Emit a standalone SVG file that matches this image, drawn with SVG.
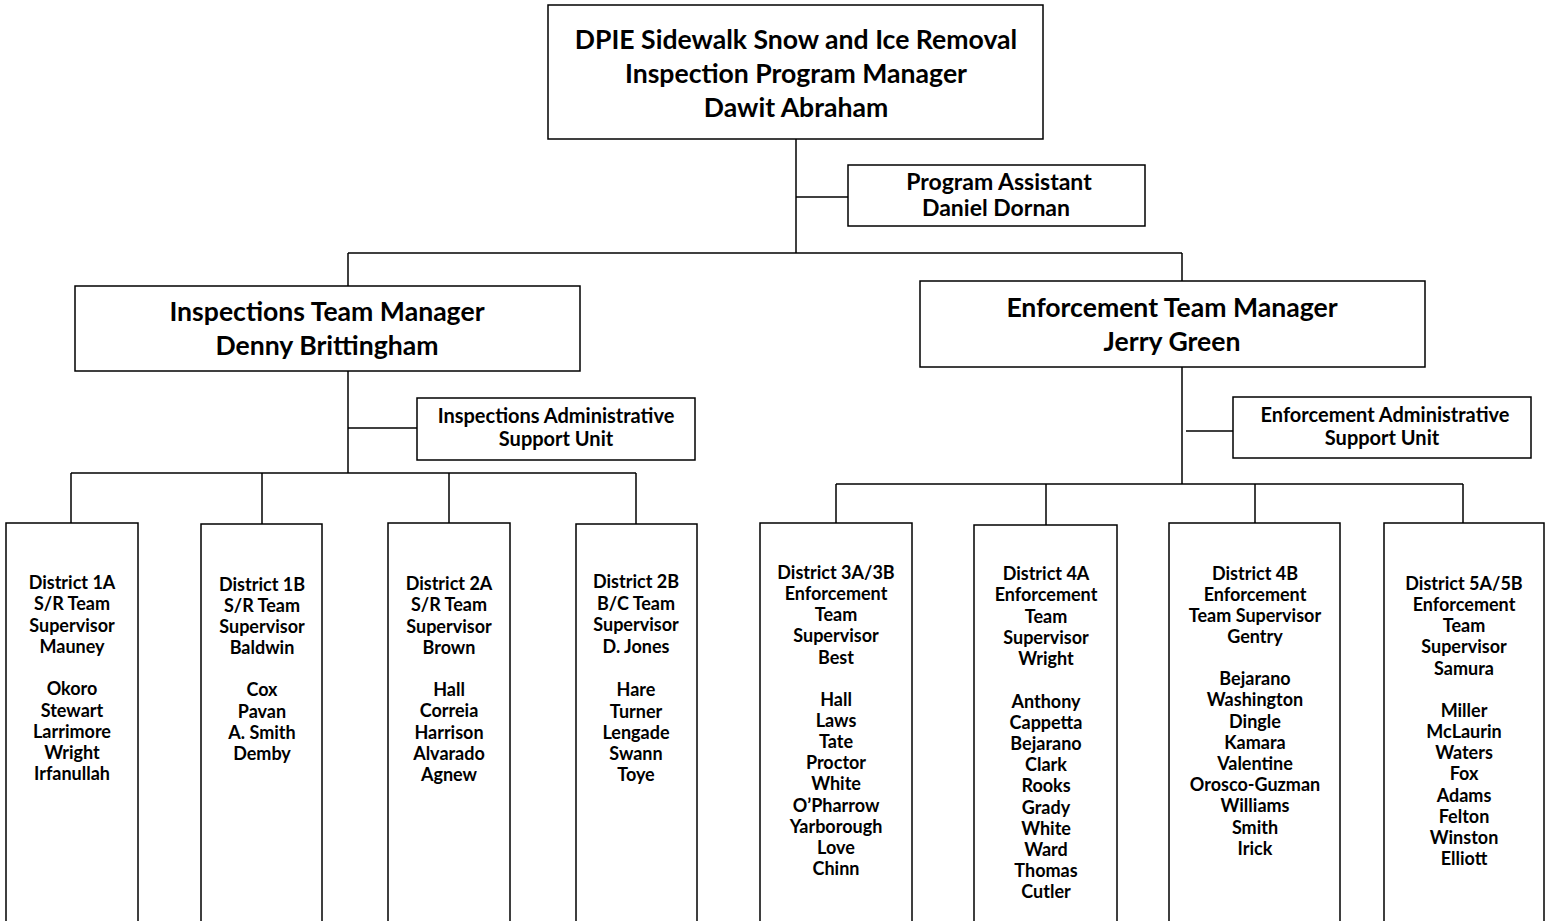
<svg xmlns="http://www.w3.org/2000/svg" width="1549" height="921" viewBox="0 0 1549 921">
<style>
rect{fill:#fff;stroke:#000;stroke-width:1.5}
.c line{stroke:#000;stroke-width:1.5}
text{font-family:Lato,"Liberation Sans",sans-serif;font-weight:bold;fill:#000;text-anchor:middle}
.t{font-size:26.6px}
.s{font-size:23px}
.a{font-size:20px}
.d{font-size:18px}
</style>
<rect x="0" y="0" width="1549" height="921" style="stroke:none"/>
<g class="c">
<line x1="796" y1="139" x2="796" y2="253"/>
<line x1="796" y1="197" x2="848" y2="197"/>
<line x1="348" y1="253" x2="1182" y2="253"/>
<line x1="348" y1="253" x2="348" y2="286"/>
<line x1="1182" y1="253" x2="1182" y2="281"/>
<line x1="348" y1="371" x2="348" y2="473"/>
<line x1="348" y1="428" x2="417" y2="428"/>
<line x1="71" y1="473" x2="636" y2="473"/>
<line x1="71" y1="473" x2="71" y2="523"/>
<line x1="262" y1="473" x2="262" y2="524"/>
<line x1="449" y1="473" x2="449" y2="523"/>
<line x1="636" y1="473" x2="636" y2="524"/>
<line x1="1182" y1="367" x2="1182" y2="484"/>
<line x1="1186" y1="431" x2="1233" y2="431"/>
<line x1="836" y1="484" x2="1463" y2="484"/>
<line x1="836" y1="484" x2="836" y2="523"/>
<line x1="1046" y1="484" x2="1046" y2="525"/>
<line x1="1255" y1="484" x2="1255" y2="523"/>
<line x1="1463" y1="484" x2="1463" y2="523"/>
</g>
<g id="director">
<rect x="548" y="5" width="495" height="134"/>
<text class="t" x="796" y="49">DPIE Sidewalk Snow and Ice Removal</text>
<text class="t" x="796" y="83">Inspection Program Manager</text>
<text class="t" x="796" y="117">Dawit Abraham</text>
</g>
<g id="assistant">
<rect x="848" y="165" width="297" height="61"/>
<text class="s" x="999" y="190">Program Assistant</text>
<text class="s" x="996" y="216">Daniel Dornan</text>
</g>
<g id="insp-mgr">
<rect x="75" y="286" width="505" height="85"/>
<text class="t" x="327" y="321">Inspections Team Manager</text>
<text class="t" x="327" y="355">Denny Brittingham</text>
</g>
<g id="enf-mgr">
<rect x="920" y="281" width="505" height="86"/>
<text class="t" x="1172" y="317">Enforcement Team Manager</text>
<text class="t" x="1172" y="351">Jerry Green</text>
</g>
<g id="insp-admin">
<rect x="417" y="398" width="278" height="62"/>
<text class="a" x="556" y="423">Inspections Administrative</text>
<text class="a" x="556" y="446">Support Unit</text>
</g>
<g id="enf-admin">
<rect x="1233" y="397" width="298" height="61"/>
<text class="a" x="1385" y="422">Enforcement Administrative</text>
<text class="a" x="1382" y="445">Support Unit</text>
</g>
<g id="d1a">
<rect x="6" y="523" width="132" height="400"/>
<text class="d" x="72" y="589">District 1A</text>
<text class="d" x="72" y="610">S/R Team</text>
<text class="d" x="72" y="632">Supervisor</text>
<text class="d" x="72" y="653">Mauney</text>
<text class="d" x="72" y="695">Okoro</text>
<text class="d" x="72" y="717">Stewart</text>
<text class="d" x="72" y="738">Larrimore</text>
<text class="d" x="72" y="759">Wright</text>
<text class="d" x="72" y="780">Irfanullah</text>
</g>
<g id="d1b">
<rect x="201" y="524" width="121" height="400"/>
<text class="d" x="262" y="591">District 1B</text>
<text class="d" x="262" y="612">S/R Team</text>
<text class="d" x="262" y="633">Supervisor</text>
<text class="d" x="262" y="654">Baldwin</text>
<text class="d" x="262" y="696">Cox</text>
<text class="d" x="262" y="718">Pavan</text>
<text class="d" x="262" y="739">A. Smith</text>
<text class="d" x="262" y="760">Demby</text>
</g>
<g id="d2a">
<rect x="388" y="523" width="122" height="400"/>
<text class="d" x="449" y="590">District 2A</text>
<text class="d" x="449" y="611">S/R Team</text>
<text class="d" x="449" y="633">Supervisor</text>
<text class="d" x="449" y="654">Brown</text>
<text class="d" x="449" y="696">Hall</text>
<text class="d" x="449" y="717">Correia</text>
<text class="d" x="449" y="739">Harrison</text>
<text class="d" x="449" y="760">Alvarado</text>
<text class="d" x="449" y="781">Agnew</text>
</g>
<g id="d2b">
<rect x="576" y="524" width="121" height="400"/>
<text class="d" x="636" y="588">District 2B</text>
<text class="d" x="636" y="610">B/C Team</text>
<text class="d" x="636" y="631">Supervisor</text>
<text class="d" x="636" y="653">D. Jones</text>
<text class="d" x="636" y="696">Hare</text>
<text class="d" x="636" y="718">Turner</text>
<text class="d" x="636" y="739">Lengade</text>
<text class="d" x="636" y="760">Swann</text>
<text class="d" x="636" y="781">Toye</text>
</g>
<g id="d3">
<rect x="760" y="523" width="152" height="400"/>
<text class="d" x="836" y="579">District 3A/3B</text>
<text class="d" x="836" y="600">Enforcement</text>
<text class="d" x="836" y="621">Team</text>
<text class="d" x="836" y="642">Supervisor</text>
<text class="d" x="836" y="664">Best</text>
<text class="d" x="836" y="706">Hall</text>
<text class="d" x="836" y="727">Laws</text>
<text class="d" x="836" y="748">Tate</text>
<text class="d" x="836" y="769">Proctor</text>
<text class="d" x="836" y="790">White</text>
<text class="d" x="836" y="812">O’Pharrow</text>
<text class="d" x="836" y="833">Yarborough</text>
<text class="d" x="836" y="854">Love</text>
<text class="d" x="836" y="875">Chinn</text>
</g>
<g id="d4a">
<rect x="974" y="525" width="143" height="400"/>
<text class="d" x="1046" y="580">District 4A</text>
<text class="d" x="1046" y="601">Enforcement</text>
<text class="d" x="1046" y="623">Team</text>
<text class="d" x="1046" y="644">Supervisor</text>
<text class="d" x="1046" y="665">Wright</text>
<text class="d" x="1046" y="708">Anthony</text>
<text class="d" x="1046" y="729">Cappetta</text>
<text class="d" x="1046" y="750">Bejarano</text>
<text class="d" x="1046" y="771">Clark</text>
<text class="d" x="1046" y="792">Rooks</text>
<text class="d" x="1046" y="814">Grady</text>
<text class="d" x="1046" y="835">White</text>
<text class="d" x="1046" y="856">Ward</text>
<text class="d" x="1046" y="877">Thomas</text>
<text class="d" x="1046" y="898">Cutler</text>
</g>
<g id="d4b">
<rect x="1169" y="523" width="171" height="400"/>
<text class="d" x="1255" y="580">District 4B</text>
<text class="d" x="1255" y="601">Enforcement</text>
<text class="d" x="1255" y="622">Team Supervisor</text>
<text class="d" x="1255" y="643">Gentry</text>
<text class="d" x="1255" y="685">Bejarano</text>
<text class="d" x="1255" y="706">Washington</text>
<text class="d" x="1255" y="728">Dingle</text>
<text class="d" x="1255" y="749">Kamara</text>
<text class="d" x="1255" y="770">Valentine</text>
<text class="d" x="1255" y="791">Orosco-Guzman</text>
<text class="d" x="1255" y="812">Williams</text>
<text class="d" x="1255" y="834">Smith</text>
<text class="d" x="1255" y="855">Irick</text>
</g>
<g id="d5">
<rect x="1384" y="523" width="160" height="400"/>
<text class="d" x="1464" y="590">District 5A/5B</text>
<text class="d" x="1464" y="611">Enforcement</text>
<text class="d" x="1464" y="632">Team</text>
<text class="d" x="1464" y="653">Supervisor</text>
<text class="d" x="1464" y="675">Samura</text>
<text class="d" x="1464" y="717">Miller</text>
<text class="d" x="1464" y="738">McLaurin</text>
<text class="d" x="1464" y="759">Waters</text>
<text class="d" x="1464" y="780">Fox</text>
<text class="d" x="1464" y="802">Adams</text>
<text class="d" x="1464" y="823">Felton</text>
<text class="d" x="1464" y="844">Winston</text>
<text class="d" x="1464" y="865">Elliott</text>
</g>
</svg>
